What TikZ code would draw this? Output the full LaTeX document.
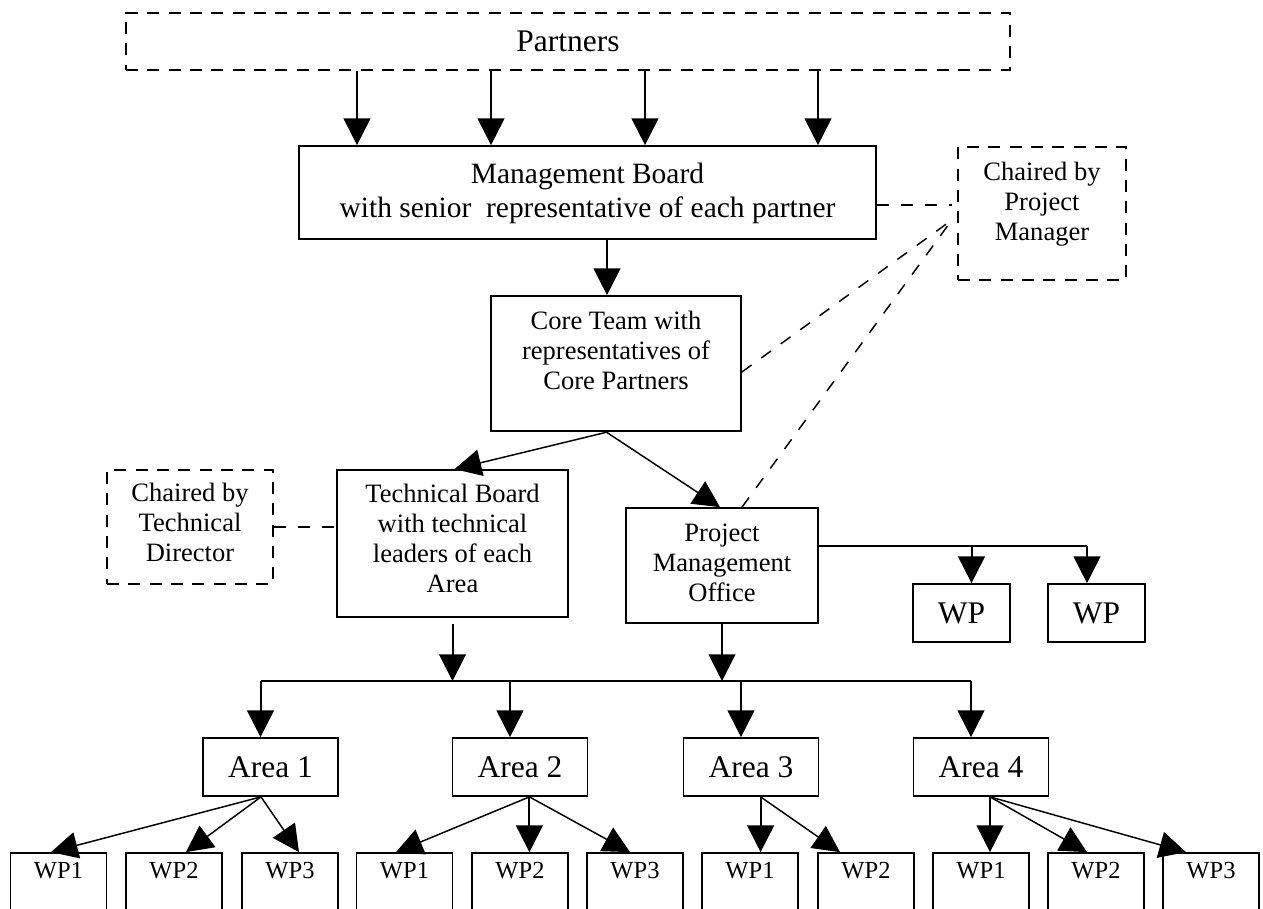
\documentclass[tikz,border=0pt]{standalone}
\usepackage{fontspec}
\setmainfont{Liberation Serif}
\usetikzlibrary{arrows.meta,calc}

% centred lines; the baseline of the block is that of its first line
\newcommand{\stacklines}[1]{\begin{tabular}[t]{@{}c@{}}#1\end{tabular}}
\newcommand{\fsmall}{\fontsize{19.9pt}{22.5pt}\selectfont}
\newcommand{\fboard}{\fontsize{22.1pt}{25.5pt}\selectfont}
\newcommand{\flarge}{\fontsize{23.6pt}{27pt}\selectfont}
\newcommand{\fwp}{\fontsize{18.4pt}{21pt}\selectfont}

\tikzset{
  sized/.style 2 args={minimum width=#1*0.75pt, minimum height=#2*0.75pt},
  box/.style={draw, line width=1.3pt, inner sep=0pt},
  dbox/.style={draw, line width=1.7pt, dash pattern=on 9pt off 7pt, inner sep=0pt},
  txt/.style={anchor=base, inner sep=0pt},
  tip/.style={-{Triangle[length=20pt,width=20pt]}},
  arr/.style={tip, line width=1.5pt},
  tarr/.style={tip, line width=1.1pt},
  thinline/.style={line width=1.1pt},
  dline/.style={line width=1.1pt, dash pattern=on 9pt off 9pt},
}

\begin{document}
\begin{tikzpicture}[x=0.75pt, y=-0.75pt]
\useasboundingbox (0,0) rectangle (1263,908);
\clip (0,0) rectangle (1263,908);

% ---------- upper boxes ----------
\node[dbox, sized={884}{57.3}] (partners) at (568,41.3) {};
\node[txt, font=\flarge] (partners-t) at (568,51.7) {Partners};

\node[box, sized={577}{93}] (mb) at (587.5,192.5) {};
\node[txt, font=\fboard] (mb-t) at (587.5,183)
  {\stacklines{Management Board\\with senior\ \ representative of each partner}};

\node[dbox, sized={168}{133}] (pm) at (1042,213.5) {};
\node[txt, font=\fsmall] (pm-t) at (1042,180) {\stacklines{Chaired by\\Project\\Manager}};

\node[box, sized={250}{135}] (ct) at (616,363.5) {};
\node[txt, font=\fsmall] (ct-t) at (616,329.5)
  {\stacklines{Core Team with\\representatives of\\Core Partners}};

\node[dbox, sized={166}{114}] (td) at (190,527) {};
\node[txt, font=\fsmall] (td-t) at (190,501.7) {\stacklines{Chaired by\\Technical\\Director}};

\node[box, sized={231}{147}] (tb) at (452.5,543.5) {};
\node[txt, font=\fsmall] (tb-t) at (452.5,502)
  {\stacklines{Technical Board\\with technical\\leaders of each\\Area}};

\node[box, sized={192}{115}] (pmo) at (722,565.5) {};
\node[txt, font=\fsmall] (pmo-t) at (722,541.7) {\stacklines{Project\\Management\\Office}};

\node[box, sized={97}{58}] (wpa) at (961.5,613) {};
\node[txt, font=\flarge] (wpa-t) at (961.5,623) {WP};
\node[box, sized={97}{58}] (wpb) at (1096.5,613) {};
\node[txt, font=\flarge] (wpb-t) at (1096.5,623) {WP};

% ---------- areas ----------
\foreach \n/\cx/\lab in {a1/270.5/Area 1, a2/520/Area 2, a3/751/Area 3, a4/981/Area 4} {
  \node[box, sized={135}{58}] (\n) at (\cx,767) {};
  \node[txt, font=\flarge] (\n-t) at (\cx,777) {\lab};
}

% ---------- work packages ----------
\foreach \n/\cx/\lab in {w11/58.5/WP1, w12/174/WP2, w13/290/WP3,
                         w21/404.5/WP1, w22/520/WP2, w23/635/WP3,
                         w31/750/WP1, w32/866/WP2,
                         w41/981/WP1, w42/1096/WP2, w43/1211/WP3} {
  \node[box, sized={96}{87}] (\n) at (\cx,896.5) {};
  \node[txt, font=\fwp] (\n-t) at (\cx,878) {\lab};
}

% ---------- connectors ----------
\foreach \px in {357,491,645,818}
  \draw[arr] (partners.south -| \px,0) -- (mb.north -| \px,0);
\draw[arr] (mb.south -| 607,0) -- (ct.north -| 607,0);

\coordinate (pmhub) at ($(pm.west)+(-5,6.5)$);
\draw[dline] (mb.east |- 0,205) -- (pmhub |- 0,205);
\draw[dline] (ct.east |- 0,372) -- (pmhub);
\draw[dline] ($(pmo.north)+(20,0)$) -- (pmhub);

\draw[tarr] ($(ct.south)+(-8,0)$) -- ($(tb.north)+(2,0)$);
\draw[tarr] ($(ct.south)+(-10,0)$) -- ($(pmo.north)+(-2,0)$);
\draw[dline] (td.east) -- (tb.west |- td.east);

% project office to its own work packages
\coordinate (wpaIn) at ($(wpa.north)+(10,0)$);
\coordinate (wpbIn) at ($(wpb.north)+(-9.5,0)$);
\draw[thinline] (pmo.east |- 0,546) -- (wpbIn |- 0,546);
\draw[arr] (wpaIn |- 0,546) -- (wpaIn);
\draw[arr] (wpbIn |- 0,546) -- (wpbIn);

% bus feeding the four areas
\foreach \n in {a1,a2,a3,a4}
  \coordinate (\n-in) at ($(\n.north)+(-10,0)$);
\coordinate (busL) at (a1-in |- 0,681);
\coordinate (busR) at (a4-in |- 0,681);
\draw[thinline] (busL) -- (busR);
\draw[arr] ($(tb.south)+(0,6)$) -- (tb.south |- busL);
\draw[arr] (pmo.south) -- (pmo.south |- busL);
\foreach \n in {a1,a2,a3,a4}
  \draw[arr] (\n-in |- busL) -- (\n-in);

% areas to work packages
\coordinate (a1-out) at ($(a1.south)+(-9.5,0)$);
\coordinate (a2-out) at ($(a2.south)+(9.4,0)$);
\coordinate (a3-out) at ($(a3.south)+(9.6,0)$);
\coordinate (a4-out) at ($(a4.south)+(9,0)$);

\draw[tarr] (a1-out) -- ($(w11.north)+(-7.5,0)$);
\draw[tarr] (a1-out) -- ($(w12.north)+(12,0)$);
\draw[tarr] (a1-out) -- ($(w13.north)+(9,0)$);

\draw[tarr] (a2-out) -- ($(w21.north)+(-8.5,0)$);
\draw[arr]  (a2-out) -- (w22.north -| a2-out);
\draw[tarr] (a2-out) -- ($(w23.north)+(-5,0)$);

\draw[arr]  (a3-out) -- (w31.north -| a3-out);
\draw[tarr] (a3-out) -- ($(w32.north)+(-26,0)$);

\draw[arr]  (a4-out) -- (w41.north -| a4-out);
\draw[tarr] (a4-out) -- ($(w42.north)+(-9,0)$);
\draw[tarr] (a4-out) -- ($(w43.north)+(-25,0)$);
\end{tikzpicture}
\end{document}
